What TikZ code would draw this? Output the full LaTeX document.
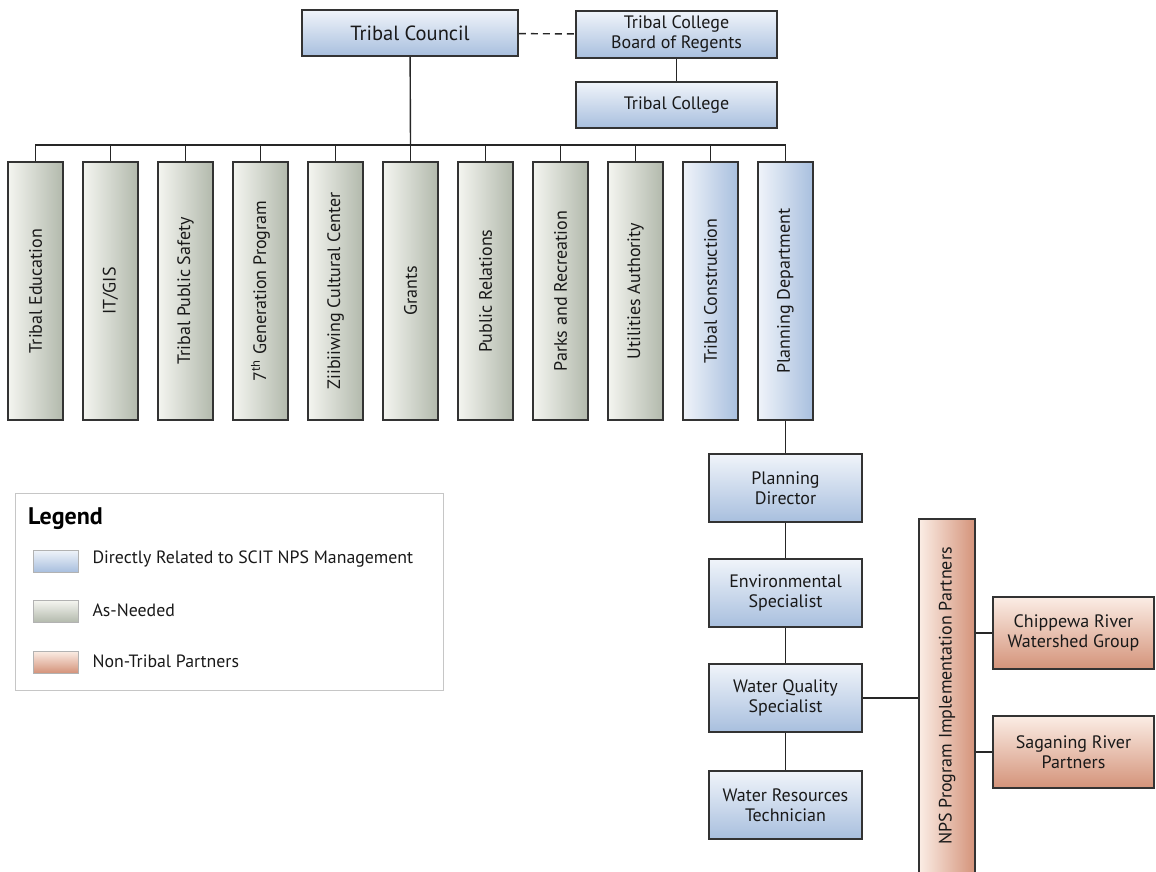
\documentclass[tikz,border=0pt]{standalone}
\usepackage{fontspec}
\setmainfont{PT Sans}
\usetikzlibrary{shadings}
\definecolor{bluelt}{HTML}{F0F4FA}
\definecolor{bluedk}{HTML}{A8BFDE}
\definecolor{greylt}{HTML}{F4F5F0}
\definecolor{greydk}{HTML}{B2B9AC}
\definecolor{orglt}{HTML}{FBEDE5}
\definecolor{orgdk}{HTML}{D4937A}
\definecolor{boxline}{HTML}{333333}
\tikzset{
	unit/.style={draw=boxline, line width=1.6pt, text=black!90, align=center,
		font=\fontsize{18}{20}\selectfont, inner sep=2pt},
	bluebox/.style={unit, top color=bluelt, bottom color=bluedk},
	orgbox/.style={unit, top color=orglt, bottom color=orgdk},
	deptbox/.style={unit, rotate=90, minimum width=258pt, minimum height=55pt},
	link/.style={line width=1.4pt, draw=black!85},
	swatch/.style={draw=gray!60, line width=0.6pt, minimum width=45pt, minimum height=22pt, inner sep=0pt},
	legtext/.style={anchor=west, font=\fontsize{17.8}{20}\selectfont, text=black!90}
}
\begin{document}
\begin{tikzpicture}[x=1pt, y=-1pt]
	\useasboundingbox (0, 0) rectangle (1156, 872);
	\clip (0, 0) rectangle (1156, 872);
	% top of the chart
	\node[bluebox, minimum width=216pt, minimum height=46pt, font=\fontsize{20.5}{22}\selectfont] (council) at (410, 33) {Tribal Council};
	\node[bluebox, minimum width=201pt, minimum height=47pt] (regents) at (676.5, 34.5) {Tribal College\\Board of Regents};
	\node[bluebox, minimum width=201pt, minimum height=46pt] (college) at (676.5, 105) {Tribal College};
	\draw[link, dash pattern=on 7pt off 5pt] (council) -- (regents);
	\draw[link] (regents) -- (college);
	% departments
	\coordinate (bus) at (410.5, 145);
	\draw[link] (council) -- (bus);
	\foreach \name [count=\i] in {Tribal Education, IT/GIS, Tribal Public Safety, 7\textsuperscript{th} Generation Program, Ziibiiwing Cultural Center, Grants, Public Relations, Parks and Recreation, Utilities Authority, Tribal Construction, Planning Department} {
		\ifnum\i<10
			\node[deptbox, left color=greylt, right color=greydk, shading angle=90] (d\i) at ({35.5 + 75*(\i-1)}, 291) {\name};
		\else
			\node[deptbox, left color=bluelt, right color=bluedk, shading angle=90] (d\i) at ({35.5 + 75*(\i-1)}, 291) {\name};
		\fi
		\draw[link] (d\i.east) |- (bus);
	}
	% planning staff
	\node[bluebox, minimum width=153pt, minimum height=68pt] (director) at (785.5, 488) {Planning\\Director};
	\node[bluebox, minimum width=153pt, minimum height=68pt] (envspec) at (785.5, 593) {Environmental\\Specialist};
	\node[bluebox, minimum width=153pt, minimum height=68pt] (wqspec) at (785.5, 698) {Water Quality\\Specialist};
	\node[bluebox, minimum width=153pt, minimum height=68pt] (wrtech) at (785.5, 805) {Water Resources\\Technician};
	\draw[link] (d11.west) -- (director);
	\draw[link] (director) -- (envspec);
	\draw[link] (envspec) -- (wqspec);
	\draw[link] (wqspec) -- (wrtech);
	% partners
	\node[unit, rotate=90, minimum width=354pt, minimum height=56pt, left color=orglt, right color=orgdk, shading angle=90] (nps) at (947, 696) {NPS Program Implementation Partners};
	\node[orgbox, minimum width=161pt, minimum height=72pt] (chippewa) at (1073.5, 633) {Chippewa River\\Watershed Group};
	\node[orgbox, minimum width=161pt, minimum height=72pt] (saganing) at (1073.5, 752) {Saganing River\\Partners};
	\draw[link] (wqspec) -- (wqspec -| nps.north);
	\draw[link] (chippewa.west -| nps.south) -- (chippewa);
	\draw[link] (saganing.west -| nps.south) -- (saganing);
	% legend
	\node[draw=gray!45, line width=1pt, minimum width=428pt, minimum height=197pt] (legend) at (229, 591.5) {};
	\node[anchor=base west, font=\fontsize{24}{26}\selectfont\bfseries, inner sep=0pt] (legtitle) at (28, 524) {Legend};
	\node[swatch, top color=bluelt, bottom color=bluedk] (sw1) at (55.5, 561) {};
	\node[swatch, top color=greylt, bottom color=greydk] (sw2) at (55.5, 611.5) {};
	\node[swatch, top color=orglt, bottom color=orgdk] (sw3) at (55.5, 662) {};
	\node[legtext] (lg1) at (89, 559) {Directly Related to SCIT NPS Management};
	\node[legtext] (lg2) at (89, 610) {As-Needed};
	\node[legtext] (lg3) at (89, 661) {Non-Tribal Partners};
\end{tikzpicture}
\end{document}
